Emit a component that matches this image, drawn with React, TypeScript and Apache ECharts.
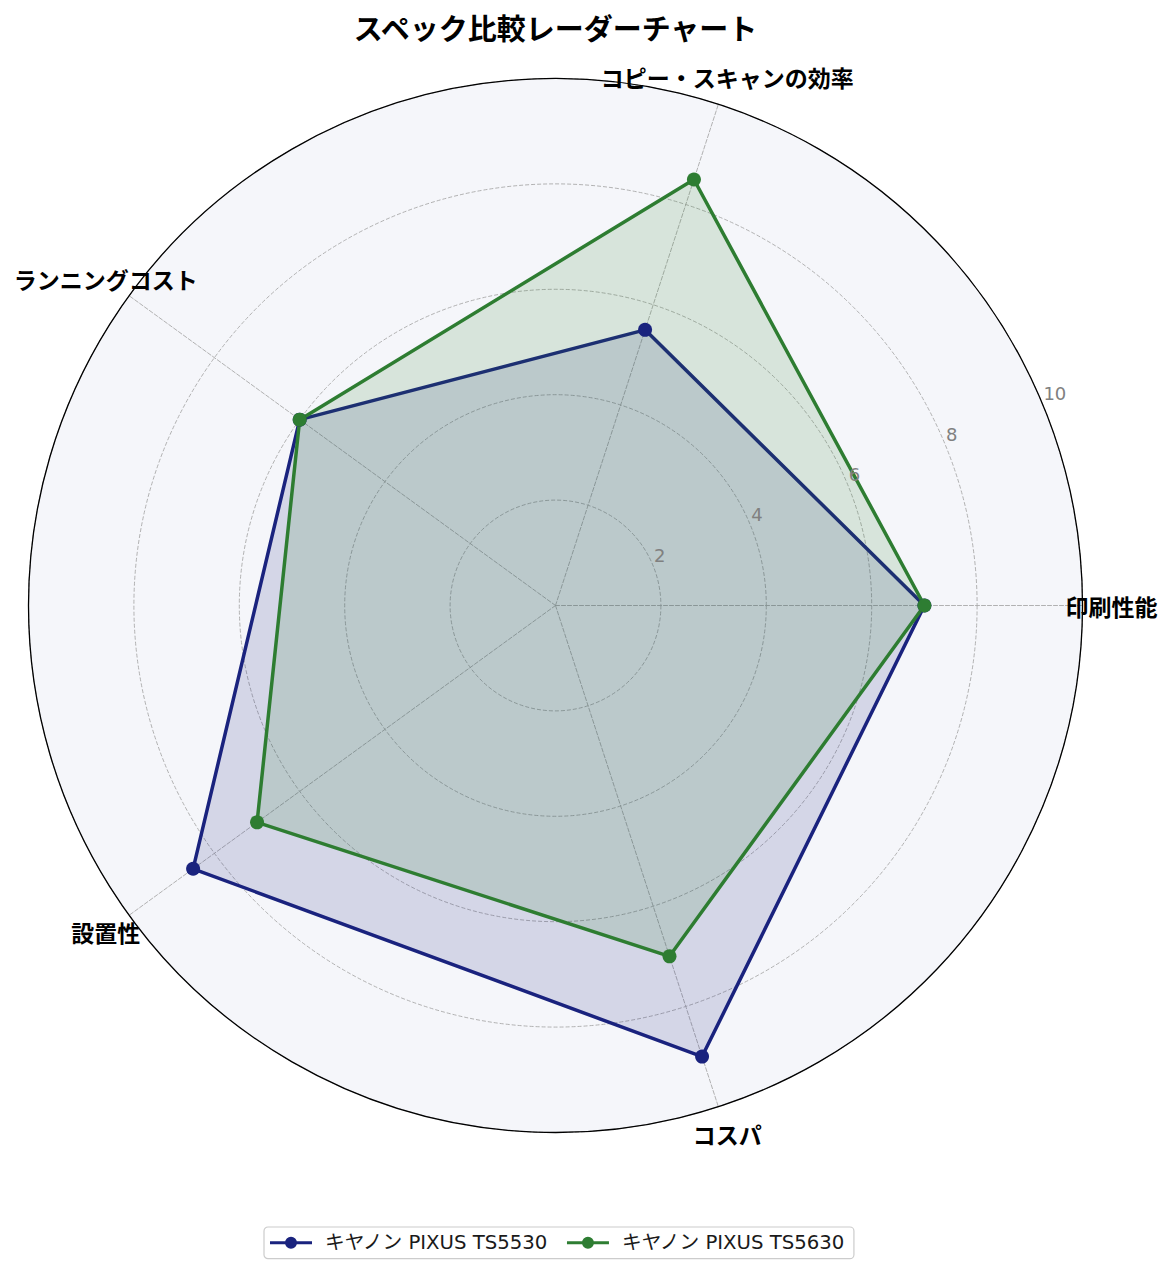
import React, { useEffect, useRef } from "react";
import * as echarts from "echarts";

// categories (counter-clockwise from the right)
const indicators = ["印刷性能", "コピー・スキャンの効率", "ランニングコスト", "設置性", "コスパ"];
const seriesNames = ["キヤノン PIXUS TS5530", "キヤノン PIXUS TS5630"];
const ts5530Values = [7, 5.5, 6, 8.5, 9];
const ts5630Values = [7, 8.5, 6, 7, 7];
const seriesColors = ["#1a237e", "#2e7d32"];
const scoreMax = 10;
const scoreStep = 2;

const CX = 555.5;
const CY = 605.5;
const R = 527;
const LABEL_R = R + 29;
const FONT = '"Noto Sans CJK JP", "Noto Sans", sans-serif';
const LATIN_FONT = '"DejaVu Sans", "Noto Sans CJK JP", sans-serif';
const GRID = "#a9a9a9";
const LEGEND_ICON = "path://M0,5 L42,5 L42,8 L0,8 Z M15,6.5 A6,6 0 1 1 27,6.5 A6,6 0 1 1 15,6.5 Z";

const App: React.FC = () => {
  const chartRef = useRef<HTMLDivElement>(null);

  useEffect(() => {
    document.body.style.margin = "0";
    if (!chartRef.current) return;
    const chart = echarts.init(chartRef.current, undefined, { renderer: "svg" });

    const values = [ts5530Values, ts5630Values];

    const option = {
      animation: false,
      backgroundColor: "#ffffff",
      textStyle: { fontFamily: FONT },
      legend: {
        data: seriesNames.map((name) => ({ name, icon: LEGEND_ICON })),
        left: 264,
        top: 1227,
        itemWidth: 42,
        itemHeight: 12,
        itemGap: 18,
        padding: [6, 8, 6, 6],
        borderColor: "#cccccc",
        borderWidth: 1.2,
        borderRadius: 4,
        itemStyle: { borderWidth: 0 },
        textStyle: { fontSize: 19.7, color: "#1a1a1a", fontFamily: LATIN_FONT, padding: [0, 0, 0, 8] },
      },
      radar: {
        center: [CX, CY],
        radius: R,
        startAngle: 0,
        shape: "circle",
        splitNumber: scoreMax / scoreStep,
        indicator: indicators.map((name) => ({ name, min: 0, max: scoreMax })),
        axisName: { show: false },
        axisLine: { lineStyle: { color: GRID, type: [4, 2], width: 0.9 } },
        splitLine: { lineStyle: { color: GRID, type: [4, 2], width: 0.9 } },
        splitArea: { show: true, areaStyle: { color: ["#f5f6fa"] } },
      },
      // polar only for the outer ring and the radial tick labels
      polar: { center: [CX, CY], radius: R },
      angleAxis: {
        type: "value",
        min: 0,
        max: 360,
        startAngle: 22.5,
        axisLine: { show: true, lineStyle: { color: "#000000", width: 1.3 } },
        axisTick: { show: false },
        axisLabel: { show: false },
        splitLine: { show: false },
        z: 10,
      },
      radiusAxis: {
        type: "value",
        min: 0,
        max: scoreMax,
        interval: scoreStep,
        axisLine: { show: false },
        axisTick: { show: false },
        splitLine: { show: false },
        axisLabel: {
          show: true,
          color: "#808080",
          fontSize: 18,
          fontFamily: LATIN_FONT,
          margin: 0,
          align: "left",
          verticalAlign: "bottom",
          padding: [0, 0, 1, 1],
          formatter: (v: number) => (v === 0 ? "" : String(v)),
        },
        z: 10,
      },
      graphic: [
        {
          type: "text",
          x: CX,
          y: 27,
          z: 20,
          style: {
            text: "スペック比較レーダーチャート",
            fill: "#000000",
            fontSize: 29,
            fontWeight: "bold",
            fontFamily: FONT,
            align: "center",
            verticalAlign: "middle",
            textAlign: "center",
            textVerticalAlign: "middle",
          },
        },
        ...indicators.map((name, i) => {
          const a = (i * 2 * Math.PI) / indicators.length;
          return {
            type: "text",
            x: CX + LABEL_R * Math.cos(a),
            y: CY - LABEL_R * Math.sin(a),
            z: 20,
            style: {
              text: name,
              fill: "#000000",
              fontSize: 23,
              fontWeight: "bold",
              fontFamily: FONT,
              align: "center",
              verticalAlign: "middle",
              textAlign: "center",
              textVerticalAlign: "middle",
            },
          };
        }),
      ],
      series: [
        {
          type: "radar",
          symbol: "circle",
          symbolSize: 14,
          data: seriesNames.map((name, i) => ({
            name,
            value: values[i],
            itemStyle: { color: seriesColors[i] },
            lineStyle: { color: seriesColors[i], width: 3.5 },
            areaStyle: { color: seriesColors[i], opacity: 0.15 },
          })),
        },
      ],
    };

    chart.setOption(option);

    return () => {
      chart.dispose();
    };
  }, []);

  return <div ref={chartRef} style={{ width: "1173px", height: "1276px" }}></div>;
};

export default App;
